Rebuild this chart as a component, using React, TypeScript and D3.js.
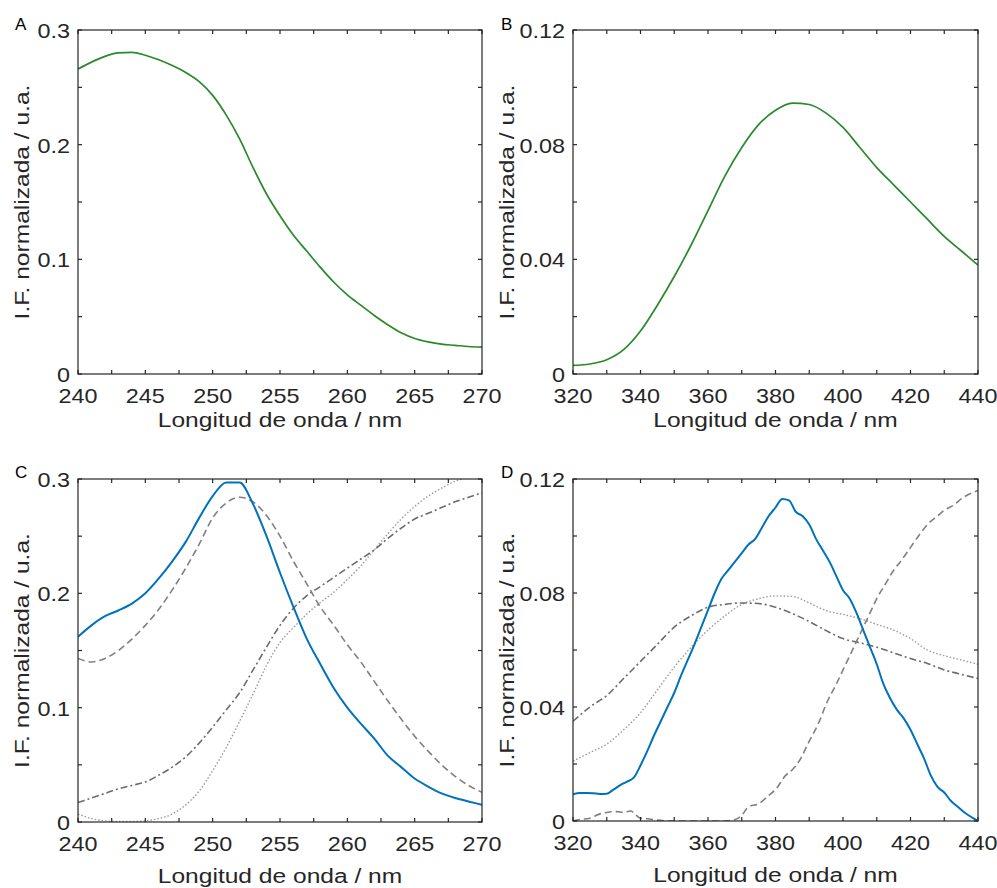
import React from "react";
import * as d3 from "d3";

// ---------- DATA ----------
const xA = d3.range(240, 271, 1);
const greenA = [0.266,0.272,0.277,0.280,0.2805,0.278,0.274,0.269,0.263,0.255,0.243,0.226,0.205,0.180,0.157,0.138,0.121,0.107,0.093,0.080,0.069,0.060,0.051,0.043,0.036,0.031,0.028,0.026,0.025,0.024,0.0235];

const xB = d3.range(320, 441, 5);
const greenB = [0.003,0.0035,0.005,0.0085,0.015,0.024,0.034,0.045,0.057,0.069,0.079,0.087,0.092,0.0945,0.094,0.091,0.086,0.079,0.072,0.066,0.060,0.054,0.048,0.043,0.038];

const xC = d3.range(240, 271, 1);
const blueC = [0.162,0.172,0.180,0.185,0.191,0.200,0.213,0.228,0.245,0.266,0.285,0.297,0.297,0.278,0.250,0.218,0.188,0.160,0.138,0.117,0.100,0.086,0.073,0.058,0.048,0.038,0.031,0.025,0.021,0.018,0.015];
const dashedC = [0.143,0.140,0.143,0.150,0.160,0.172,0.186,0.203,0.222,0.243,0.266,0.279,0.284,0.280,0.268,0.250,0.228,0.208,0.188,0.172,0.155,0.140,0.123,0.106,0.090,0.075,0.062,0.050,0.040,0.032,0.026];
const dashdotC = [0.017,0.021,0.025,0.029,0.032,0.035,0.041,0.048,0.057,0.069,0.083,0.098,0.113,0.133,0.153,0.172,0.187,0.198,0.206,0.214,0.222,0.230,0.238,0.248,0.257,0.265,0.270,0.275,0.280,0.284,0.288];
const dottedC = [0.007,0.003,0.001,0.0005,0.0005,0.001,0.003,0.007,0.015,0.027,0.045,0.065,0.088,0.112,0.137,0.157,0.170,0.182,0.192,0.201,0.212,0.224,0.238,0.252,0.265,0.276,0.285,0.292,0.298,0.302,0.306];

const xDblue = d3.range(320, 441, 2);
const blueD = [0.0094,0.0098,0.0098,0.0097,0.0095,0.0096,0.0110,0.0126,0.0138,0.0152,0.0195,0.0245,0.0300,0.0350,0.0400,0.0450,0.0510,0.0565,0.0620,0.0680,0.0740,0.0800,0.0850,0.0880,0.0910,0.0940,0.0970,0.0990,0.1030,0.1070,0.1100,0.1130,0.1125,0.1085,0.1070,0.1040,0.0990,0.0950,0.0910,0.0860,0.0810,0.0780,0.0730,0.0670,0.0610,0.0550,0.0480,0.0430,0.0390,0.0360,0.0320,0.0270,0.0220,0.0160,0.0120,0.0100,0.0070,0.0050,0.0030,0.0014,0.0000];
const xDdash = [320,322,325,328,330,333,335,337,340,342,345,350,355,360,365,368,370,372,375,378,380,383,385,387,390,393,395,398,400,402,404,406,408,410,413,415,417,420,423,425,428,430,433,435,438,440];
const dashedD = [0,0.0005,0.001,0.0025,0.003,0.0033,0.003,0.0035,0.001,0.0008,0.0003,0,0,0,0,0.0005,0.002,0.005,0.006,0.009,0.011,0.016,0.018,0.021,0.028,0.035,0.041,0.048,0.053,0.058,0.063,0.068,0.073,0.078,0.084,0.088,0.091,0.096,0.101,0.104,0.107,0.109,0.111,0.113,0.115,0.116];
const xD = d3.range(320, 441, 5);
const dashdotD = [0.035,0.040,0.044,0.050,0.056,0.062,0.068,0.072,0.075,0.076,0.0765,0.0763,0.075,0.0728,0.070,0.0668,0.064,0.0625,0.061,0.059,0.057,0.0553,0.053,0.0515,0.050];
const dottedD = [0.021,0.024,0.027,0.032,0.038,0.046,0.054,0.061,0.067,0.072,0.076,0.078,0.079,0.0788,0.0765,0.0738,0.0725,0.071,0.069,0.067,0.064,0.060,0.058,0.0565,0.055];

const xTicksShort = d3.range(240, 271, 2.5);
const xLabelsShort = [240, 245, 250, 255, 260, 265, 270];
const xTicksLong = d3.range(320, 441, 10);
const xLabelsLong = [320, 340, 360, 380, 400, 420, 440];
const yTicksA = d3.range(0, 0.301, 0.05);
const yLabelsA = [0, 0.1, 0.2, 0.3];
const yTicksB = d3.range(0, 0.1201, 0.02);
const yLabelsB = [0, 0.04, 0.08, 0.12];

const xTitle = "Longitud de onda / nm";
const yTitle = "I.F. normalizada / u.a.";

// ---------- STYLE ----------
const FONT = "'Liberation Sans', Arial, Helvetica, sans-serif";
const K = 1.17;
const AX = "#262626";
const STY: Record<string, any> = {
  green: { stroke: "#2a8a2a", strokeWidth: 1.7 },
  blue: { stroke: "#0072BD", strokeWidth: 2 },
  dashed: { stroke: "#808080", strokeWidth: 1.6, strokeDasharray: "7,4" },
  dashdot: { stroke: "#6c6c6c", strokeWidth: 1.6, strokeDasharray: "7,3,2,3" },
  dotted: { stroke: "#9a9a9a", strokeWidth: 1.4, strokeDasharray: "1.5,2" },
};

function T({ x, y, anchor = "middle", rot = false, size = 21, children }: any) {
  const tr = `translate(${x},${y})${rot ? " rotate(-90)" : ""} scale(${K},1)`;
  return (
    <text transform={tr} textAnchor={anchor} fontSize={size} fontFamily={FONT} fill={AX}>
      {children}
    </text>
  );
}

function Panel({ id, box, xDom, yDom, xTicks, xLabels, yTicks, yLabels, series, letter, letterPos, yTitleX, titleGap, fmt }: any) {
  const { l, t, r, b } = box;
  const x = d3.scaleLinear().domain(xDom).range([l, r]);
  const y = d3.scaleLinear().domain(yDom).range([b, t]);
  const line = d3.line<[number, number]>().x((d) => x(d[0])).y((d) => y(d[1])).curve(d3.curveMonotoneX);
  const tl = 4;
  return (
    <g>
      <defs>
        <clipPath id={`clip${id}`}>
          <rect x={l} y={t} width={r - l} height={b - t} />
        </clipPath>
      </defs>
      <g clipPath={`url(#clip${id})`}>
        {series.map((s: any, i: number) => (
          <path key={i} d={line(s.xs.map((xv: number, j: number) => [xv, s.ys[j]]))!} fill="none" {...STY[s.style]} strokeLinejoin="round" />
        ))}
      </g>
      <rect x={l} y={t} width={r - l} height={b - t} fill="none" stroke={AX} strokeWidth={1.2} />
      {xTicks.map((v: number, i: number) => (
        <g key={"xt" + i}>
          <line x1={x(v)} x2={x(v)} y1={b} y2={b - tl} stroke={AX} strokeWidth={1.2} />
          <line x1={x(v)} x2={x(v)} y1={t} y2={t + tl} stroke={AX} strokeWidth={1.2} />
        </g>
      ))}
      {yTicks.map((v: number, i: number) => (
        <g key={"yt" + i}>
          <line x1={l} x2={l + tl} y1={y(v)} y2={y(v)} stroke={AX} strokeWidth={1.2} />
          <line x1={r} x2={r - tl} y1={y(v)} y2={y(v)} stroke={AX} strokeWidth={1.2} />
        </g>
      ))}
      {xLabels.map((v: number, i: number) => (
        <T key={"xl" + i} x={x(v)} y={b + 29} size={20}>{String(v)}</T>
      ))}
      {yLabels.map((v: number, i: number) => (
        <T key={"yl" + i} x={l - 8} y={y(v) + 8} anchor="end" size={20}>{fmt(v)}</T>
      ))}
      <T x={(l + r) / 2} y={b + titleGap} size={21}>{xTitle}</T>
      <T x={yTitleX} y={(t + b) / 2} rot size={21}>{yTitle}</T>
      <text x={letterPos[0]} y={letterPos[1]} fontSize={17} fontFamily={FONT} fill="#000">{letter}</text>
    </g>
  );
}

export default function App() {
  const fmtA = (v: number) => (v === 0 ? "0" : d3.format(".1f")(v));
  const fmtB = (v: number) => (v === 0 ? "0" : d3.format(".2f")(v));
  return (
    <svg width={997} height={888} style={{ position: "absolute", left: 0, top: 0, background: "#fff" }}>
      <rect width={997} height={888} fill="#fff" />
      <Panel id="A" box={{ l: 78, t: 30, r: 482, b: 374 }} xDom={[240, 270]} yDom={[0, 0.3]}
        xTicks={xTicksShort} xLabels={xLabelsShort} yTicks={yTicksA} yLabels={yLabelsA} fmt={fmtA}
        letter="A" letterPos={[15, 30]} yTitleX={29} titleGap={53}
        series={[{ xs: xA, ys: greenA, style: "green" }]} />
      <Panel id="B" box={{ l: 573, t: 30, r: 978, b: 374 }} xDom={[320, 440]} yDom={[0, 0.12]}
        xTicks={xTicksLong} xLabels={xLabelsLong} yTicks={yTicksB} yLabels={yLabelsB} fmt={fmtB}
        letter="B" letterPos={[501, 30]} yTitleX={514} titleGap={53}
        series={[{ xs: xB, ys: greenB, style: "green" }]} />
      <Panel id="C" box={{ l: 78, t: 479, r: 482, b: 822 }} xDom={[240, 270]} yDom={[0, 0.3]}
        xTicks={xTicksShort} xLabels={xLabelsShort} yTicks={yTicksA} yLabels={yLabelsA} fmt={fmtA}
        letter="C" letterPos={[15, 478]} yTitleX={29} titleGap={61}
        series={[
          { xs: xC, ys: dottedC, style: "dotted" },
          { xs: xC, ys: dashdotC, style: "dashdot" },
          { xs: xC, ys: dashedC, style: "dashed" },
          { xs: xC, ys: blueC, style: "blue" },
        ]} />
      <Panel id="D" box={{ l: 573, t: 479, r: 978, b: 821 }} xDom={[320, 440]} yDom={[0, 0.12]}
        xTicks={xTicksLong} xLabels={xLabelsLong} yTicks={yTicksB} yLabels={yLabelsB} fmt={fmtB}
        letter="D" letterPos={[501, 478]} yTitleX={514} titleGap={61}
        series={[
          { xs: xD, ys: dottedD, style: "dotted" },
          { xs: xD, ys: dashdotD, style: "dashdot" },
          { xs: xDdash, ys: dashedD, style: "dashed" },
          { xs: xDblue, ys: blueD, style: "blue" },
        ]} />
    </svg>
  );
}
